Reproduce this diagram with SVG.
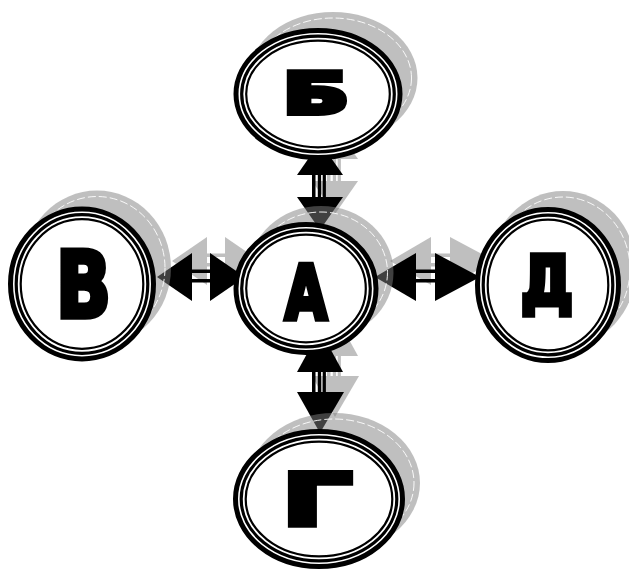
<svg xmlns="http://www.w3.org/2000/svg" width="629" height="570" viewBox="0 0 629 570">
<style>
.shadow{fill:#808080;opacity:0.5}
.dash{fill:none;stroke:#ffffff;stroke-width:1;stroke-dasharray:8 3;opacity:0.9}
.fillw{fill:#ffffff}
.r1{fill:none;stroke:#000;stroke-width:5}
.r2{fill:none;stroke:#000;stroke-width:3.2}
.r3{fill:none;stroke:#000;stroke-width:2.2}
.lbl{font-family:"DejaVu Sans","Liberation Sans",sans-serif;font-weight:bold;fill:#000;stroke:#000;stroke-width:5.5;stroke-linejoin:miter;text-anchor:middle}
.ash{fill:#808080}
.arr{fill:#000}
</style>
<rect width="629" height="570" fill="#ffffff"/>
<g id="connectors">
  <g opacity="0.5" class="ash" transform="translate(15,-16)">
    <polygon points="157,277 192,253 192,301"/><polygon points="245,277 210,253 210,301"/>
    <rect x="191" y="269.5" width="20" height="3.5"/><rect x="191" y="279" width="20" height="3.5"/>
    <polygon points="375,277 416,253 416,301"/><polygon points="480,277 435,253 435,301"/>
    <rect x="415" y="269.5" width="21" height="3.5"/><rect x="415" y="279" width="21" height="3.5"/>
    <polygon points="320,142 297,175 343,175"/><polygon points="320,230 297,197 343,197"/>
    <rect x="312" y="174" width="3.5" height="24"/><rect x="317.8" y="174" width="3.3" height="24"/><rect x="322.7" y="174" width="3.2" height="24"/>
    <polygon points="320,330 297,372 343,372"/><polygon points="320,433 297,392 344,392"/>
    <rect x="312" y="371" width="3.5" height="22"/><rect x="317.8" y="371" width="3.3" height="22"/><rect x="322.7" y="371" width="3.2" height="22"/>
  </g>
  <g class="arr">
    <polygon points="157,277 192,253 192,301"/><polygon points="245,277 210,253 210,301"/>
    <rect x="191" y="269.5" width="20" height="3.5"/><rect x="191" y="279" width="20" height="3.5"/>
    <polygon points="375,277 416,253 416,301"/><polygon points="480,277 435,253 435,301"/>
    <rect x="415" y="269.5" width="21" height="3.5"/><rect x="415" y="279" width="21" height="3.5"/>
    <polygon points="320,142 297,175 343,175"/><polygon points="320,230 297,197 343,197"/>
    <rect x="312" y="174" width="3.5" height="24"/><rect x="317.8" y="174" width="3.3" height="24"/><rect x="322.7" y="174" width="3.2" height="24"/>
    <polygon points="320,330 297,372 343,372"/><polygon points="320,433 297,392 344,392"/>
    <rect x="312" y="371" width="3.5" height="22"/><rect x="317.8" y="371" width="3.3" height="22"/><rect x="322.7" y="371" width="3.2" height="22"/>
  </g>
</g>
<g id="node-B">
  <ellipse class="shadow" cx="333" cy="78" rx="84.5" ry="66"/>
  <ellipse class="dash" cx="333" cy="78" rx="78.5" ry="60"/>
  <ellipse class="fillw" cx="318" cy="94" rx="83.5" ry="65"/>
  <ellipse class="r1" cx="318" cy="94" rx="82" ry="63.5"/>
  <ellipse class="r2" cx="318" cy="94" rx="76.3" ry="57.8"/>
  <ellipse class="r3" cx="318" cy="94" rx="71.8" ry="53.3"/>
  <text class="lbl" x="316" y="114" font-size="57" textLength="66" lengthAdjust="spacingAndGlyphs">Б</text>
</g>
<g id="node-V">
  <ellipse class="shadow" cx="97" cy="268" rx="74" ry="77.5"/>
  <ellipse class="dash" cx="97" cy="268" rx="68" ry="71.5"/>
  <ellipse class="fillw" cx="82" cy="284" rx="73" ry="76.5"/>
  <ellipse class="r1" cx="82" cy="284" rx="71.5" ry="75"/>
  <ellipse class="r2" cx="82" cy="284" rx="65.8" ry="69.3"/>
  <ellipse class="r3" cx="82" cy="284" rx="61.3" ry="64.8"/>
  <text class="lbl" x="83.5" y="317" font-size="91" textLength="55" lengthAdjust="spacingAndGlyphs">В</text>
</g>
<g id="node-A">
  <ellipse class="shadow" cx="321" cy="272.5" rx="72.5" ry="66.5"/>
  <ellipse class="dash" cx="321" cy="272.5" rx="66.5" ry="60.5"/>
  <ellipse class="fillw" cx="306" cy="288.5" rx="71.5" ry="65.5"/>
  <ellipse class="r1" cx="306" cy="288.5" rx="70" ry="64"/>
  <ellipse class="r2" cx="306" cy="288.5" rx="64.3" ry="58.3"/>
  <ellipse class="r3" cx="306" cy="288.5" rx="59.8" ry="53.8"/>
  <text class="lbl" x="306" y="319" font-size="75" textLength="42" lengthAdjust="spacingAndGlyphs">А</text>
</g>
<g id="node-D">
  <ellipse class="shadow" cx="563" cy="269" rx="73" ry="78"/>
  <ellipse class="dash" cx="563" cy="269" rx="67" ry="72"/>
  <ellipse class="fillw" cx="548" cy="285" rx="72" ry="77"/>
  <ellipse class="r1" cx="548" cy="285" rx="70.5" ry="75.5"/>
  <ellipse class="r2" cx="548" cy="285" rx="64.8" ry="69.8"/>
  <ellipse class="r3" cx="548" cy="285" rx="60.3" ry="65.3"/>
  <text class="lbl" x="547" y="304" font-size="67" textLength="52" lengthAdjust="spacingAndGlyphs">Д</text>
</g>
<g id="node-G">
  <ellipse class="shadow" cx="334" cy="483" rx="86" ry="70"/>
  <ellipse class="dash" cx="334" cy="483" rx="80" ry="64"/>
  <ellipse class="fillw" cx="319" cy="499" rx="85" ry="69"/>
  <ellipse class="r1" cx="319" cy="499" rx="83.5" ry="67.5"/>
  <ellipse class="r2" cx="319" cy="499" rx="77.8" ry="61.8"/>
  <ellipse class="r3" cx="319" cy="499" rx="73.3" ry="57.3"/>
  <text class="lbl" x="317" y="525" font-size="72" textLength="70" lengthAdjust="spacingAndGlyphs">Г</text>
</g>
</svg>
